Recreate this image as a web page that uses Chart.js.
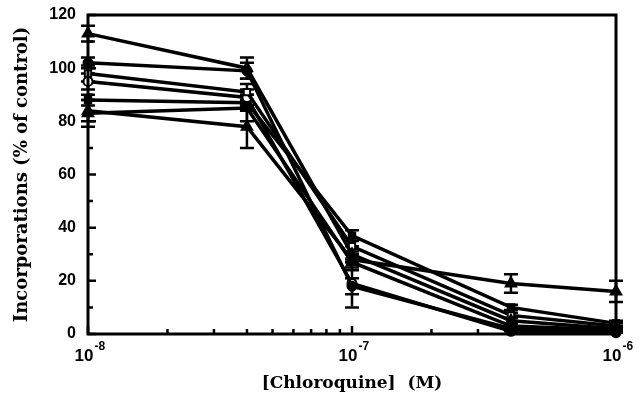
<!DOCTYPE html>
<html>
<head>
<meta charset="utf-8">
<script src="https://cdn.jsdelivr.net/npm/chart.js@4.4.1/dist/chart.umd.min.js"></script>
<style>
  html, body { margin: 0; padding: 0; background: #fff; }
  #wrap { width: 639px; height: 395px; }
</style>
</head>
<body>
<div id="wrap"><canvas id="doseChart" width="639" height="395"></canvas></div>
<script>
// concentrations (M)
const concentrations = [1e-8, 4e-8, 1e-7, 4e-7, 1e-6];
const decadeTicks = [1e-8, 1e-7, 1e-6];
const minorTicks = [2e-8, 3e-8, 4e-8, 5e-8, 6e-8, 7e-8, 8e-8, 9e-8, 2e-7, 3e-7, 4e-7, 5e-7, 6e-7, 7e-7, 8e-7, 9e-7];
const yTicks = [0, 20, 40, 60, 80, 100, 120];

// incorporation, % of control
const triA   = [113, 100, 30, 5, 2];
const circB  = [102, 99, 18, 2, 1];
const sqC    = [98, 91, 33, 7, 3];
const circD  = [95, 89, 19, 1, 0.5];
const sqE    = [88, 87, 37, 10, 4];
const triF   = [84, 78, 28, 19, 16];
const triG   = [83, 85, 27, 3, 1.5];

// error bar half widths
const errA = [3, 4, 3, 1, 1];
const errB = [2, 3, 3, 1, 1];
const errC = [3, 3, 3, 1, 1];
const errD = [3, 3, 9, 1, 1];
const errE = [2, 3, 2, 1, 1];
const errF = [4, 8, 3, 3.5, 4];
const errG = [5, 5, 3, 1, 1];

function makeSet(ys, errs, style, filled) {
  return {
    data: concentrations.map((c, i) => ({ x: c, y: ys[i] })),
    errors: errs,
    borderColor: "#000",
    borderWidth: 3.5,
    pointStyle: style,
    pointRadius: style === "triangle" ? 6 : 4.5,
    pointBorderWidth: 2,
    pointBorderColor: "#000",
    pointBackgroundColor: filled ? "#000" : "#fff",
    tension: 0,
    clip: false
  };
}

const errorBars = {
  id: "errorBars",
  beforeDatasetsDraw(chart) {
    const c = chart.ctx;
    const xs = chart.scales.x, ys = chart.scales.y;
    c.save();
    c.strokeStyle = "#000";
    c.lineWidth = 2.5;
    chart.data.datasets.forEach(ds => {
      ds.data.forEach((p, i) => {
        const e = ds.errors[i];
        if (!e) return;
        const px = xs.getPixelForValue(p.x);
        const top = ys.getPixelForValue(Math.min(p.y + e, 120));
        const bot = ys.getPixelForValue(Math.max(p.y - e, 0));
        c.beginPath();
        c.moveTo(px, top); c.lineTo(px, bot);
        c.moveTo(px - 7, top); c.lineTo(px + 7, top);
        if (p.y - e > 0) { c.moveTo(px - 7, bot); c.lineTo(px + 7, bot); }
        c.stroke();
      });
    });
    c.restore();
  }
};

const frame = {
  id: "frame",
  afterDraw(chart) {
    const c = chart.ctx;
    const a = chart.chartArea;
    const xs = chart.scales.x, ys = chart.scales.y;
    c.save();
    c.strokeStyle = "#000";
    c.lineWidth = 3;
    c.strokeRect(a.left, a.top, a.right - a.left, a.bottom - a.top);

    // inward ticks
    c.lineWidth = 2.5;
    c.beginPath();
    decadeTicks.forEach(v => {
      const px = xs.getPixelForValue(v);
      c.moveTo(px, a.bottom); c.lineTo(px, a.bottom - 8);
    });
    minorTicks.forEach(v => {
      const px = xs.getPixelForValue(v);
      c.moveTo(px, a.bottom); c.lineTo(px, a.bottom - 5);
    });
    for (let v = 0; v <= 120; v += 10) {
      const py = ys.getPixelForValue(v);
      c.moveTo(a.left, py); c.lineTo(a.left + (v % 20 === 0 ? 8 : 5), py);
    }
    c.stroke();

    // x tick labels 10^n
    c.fillStyle = "#000";
    c.textBaseline = "alphabetic";
    decadeTicks.forEach(v => {
      const px = xs.getPixelForValue(v);
      c.font = "bold 17px 'Liberation Sans', Arial, sans-serif";
      c.textAlign = "center";
      c.fillText("10", px - 4, 361);
      const w = c.measureText("10").width;
      c.font = "bold 12px 'Liberation Sans', Arial, sans-serif";
      c.textAlign = "left";
      c.fillText("-" + Math.round(-Math.log10(v)), px - 4 + w / 2 + 1, 350);
    });

    // axis titles
    c.font = "bold 17px 'DejaVu Serif', serif";
    c.textAlign = "center";
    c.fillText("[Chloroquine]  (M)", (a.left + a.right) / 2, 388);
    c.translate(27, (a.top + a.bottom) / 2);
    c.rotate(-Math.PI / 2);
    c.font = "bold 18px 'DejaVu Serif', serif";
    c.fillText("Incorporations (% of control)", 0, 0);
    c.restore();
  }
};

const ctx = document.getElementById("doseChart").getContext("2d");

const doseChart = new Chart(ctx, {
  type: "line",
  data: {
    datasets: [
      makeSet(triA, errA, "triangle", true),
      makeSet(circB, errB, "circle", true),
      makeSet(sqC, errC, "rect", false),
      makeSet(circD, errD, "circle", false),
      makeSet(sqE, errE, "rect", true),
      makeSet(triF, errF, "triangle", true),
      makeSet(triG, errG, "triangle", true)
    ]
  },
  options: {
    responsive: false,
    animation: false,
    layout: { padding: { top: 15, right: 23, left: 0, bottom: 0 } },
    plugins: { legend: { display: false }, tooltip: { enabled: false } },
    scales: {
      x: {
        type: "logarithmic",
        min: 1e-8,
        max: 1e-6,
        grid: { display: false },
        border: { display: false },
        ticks: { display: false },
        afterFit(scale) { scale.height = 61; }
      },
      y: {
        min: 0,
        max: 120,
        grid: { display: false },
        border: { display: false },
        afterBuildTicks(scale) { scale.ticks = yTicks.map(v => ({ value: v })); },
        ticks: {
          color: "#000",
          padding: 4,
          font: { family: "'Liberation Sans', Arial, sans-serif", size: 16, weight: "bold" }
        },
        afterFit(scale) { scale.width = 88; }
      }
    }
  },
  plugins: [errorBars, frame]
});
</script>
</body>
</html>
